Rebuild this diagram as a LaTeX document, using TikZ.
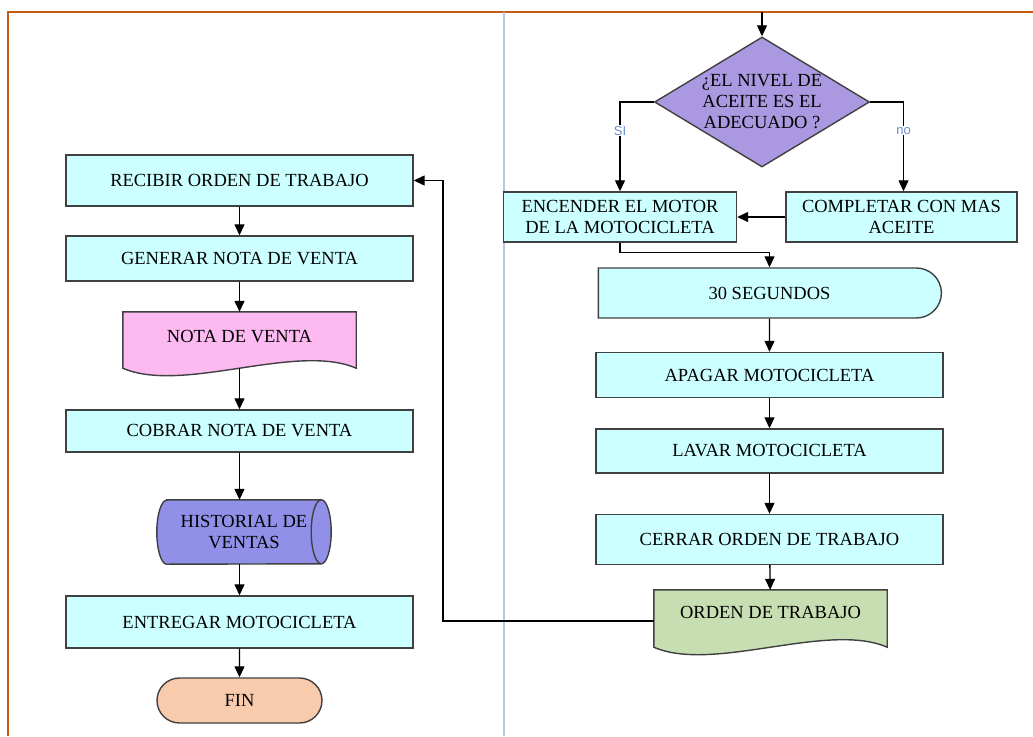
\documentclass[tikz,border=0pt]{standalone}
\usepackage{fontspec}
\setmainfont{Liberation Serif}
\setsansfont{Liberation Sans}
\usetikzlibrary{arrows.meta,shapes.geometric,shapes.misc,backgrounds}
\tikzset{>={Triangle[length=11pt,width=10pt]}}
\definecolor{celeste}{HTML}{CCFFFF}
\definecolor{rosa}{HTML}{FCBAF0}
\definecolor{lila}{HTML}{AA99E0}
\definecolor{morado}{HTML}{9090E8}
\definecolor{durazno}{HTML}{F8CBAD}
\definecolor{verdoso}{HTML}{C6DEB1}
\definecolor{naranja}{HTML}{C55A11}
\definecolor{azulito}{HTML}{B4C7E7}
\definecolor{etiqueta}{HTML}{6A8CCB}
\tikzset{
  caja/.style={draw=black!75,line width=1.4pt,fill=celeste,minimum width=347pt,inner sep=2pt,
    align=center,font=\fontsize{18.5}{21}\selectfont},
  texto/.style={align=center,inner sep=0pt,font=\fontsize{18.5}{21}\selectfont},
  borde/.style={draw=black!75,line width=1.4pt},
  flecha/.style={->,line width=1.3pt},
  rotulo/.style={fill=white,inner sep=1pt,text=etiqueta,font=\sffamily\fontsize{13}{15}\selectfont}
}
\begin{document}
\begin{tikzpicture}[x=1pt,y=-1pt]
\useasboundingbox (0,0) rectangle (1033,736);
\draw[naranja,line width=2pt] (8,736) -- (8,12) -- (1033,12);
\draw[azulito,line width=2pt] (504,12) -- (504,736);

% columna izquierda
\node[caja,minimum height=51pt] (recibir) at (239.5,180.5) {RECIBIR ORDEN DE TRABAJO};
\node[caja,minimum height=45pt] (generar) at (239.5,258.5) {GENERAR NOTA DE VENTA};
\node[texto,minimum width=233pt,minimum height=50pt] (nota) at (239.5,337) {NOTA DE VENTA};
\node[caja,minimum height=42pt] (cobrar) at (239.5,431) {COBRAR NOTA DE VENTA};
\node[texto,minimum width=174pt,minimum height=64pt] (historial) at (244,532) {HISTORIAL DE\\VENTAS};
\node[caja,minimum height=52pt] (entregar) at (239.5,622) {ENTREGAR MOTOCICLETA};
\node[rounded rectangle,borde,fill=durazno,minimum width=165pt,minimum height=45pt,
  texto] (fin) at (239.5,700.5) {FIN};

% columna derecha
\coordinate (entrada) at (762,12);
\node[diamond,borde,fill=lila,texto,aspect=1.65,minimum width=215pt,minimum height=130pt]
  (nivel) at (762,102) {¿EL NIVEL DE\\ACEITE ES EL\\ADECUADO ?};
\node[caja,minimum width=233pt,minimum height=50pt] (encender) at (620,217)
  {ENCENDER EL MOTOR\\DE LA MOTOCICLETA};
\node[caja,minimum width=231pt,minimum height=50pt] (completar) at (901.5,217)
  {COMPLETAR CON MAS\\ACEITE};
\node[caja,rounded rectangle,rounded rectangle left arc=none,minimum height=50pt]
  (segundos) at (769.5,293) {30 SEGUNDOS};
\node[caja,minimum height=45pt] (apagar) at (769.5,375) {APAGAR MOTOCICLETA};
\node[caja,minimum height=44pt] (lavar) at (769.5,451) {LAVAR MOTOCICLETA};
\node[caja,minimum height=50pt] (cerrar) at (769.5,539.5) {CERRAR ORDEN DE TRABAJO};
\node[texto,minimum width=233pt,minimum height=44pt] (orden) at (770.5,612) {ORDEN DE TRABAJO};

\begin{scope}[on background layer]
\draw[borde,fill=rosa] (nota.north west) -- (nota.north east) -- ([yshift=-6pt]nota.south east)
  .. controls ([xshift=-60pt,yshift=20pt]nota.south east) and ([xshift=60pt,yshift=-32pt]nota.south west)
  .. ([yshift=-6pt]nota.south west) -- cycle;
\draw[borde,fill=verdoso] (orden.north west) -- (orden.north east) -- ([yshift=-13pt]orden.south east)
  .. controls ([xshift=-60pt,yshift=13pt]orden.south east) and ([xshift=60pt,yshift=-39pt]orden.south west)
  .. ([yshift=-13pt]orden.south west) -- cycle;
\draw[borde,fill=morado] ([xshift=10pt]historial.north west) -- ([xshift=-10pt]historial.north east)
  arc[start angle=90,end angle=-90,x radius=10pt,y radius=32pt] -- ([xshift=10pt]historial.south west)
  arc[start angle=270,end angle=90,x radius=10pt,y radius=32pt] -- cycle;
\draw[borde] ([xshift=-10pt]historial.north east) arc[start angle=90,end angle=270,x radius=10pt,y radius=32pt];
\end{scope}

\draw[flecha] (recibir) -- (generar);
\draw[flecha] (generar) -- (nota);
\draw[flecha] ([yshift=-6pt]nota.south) -- (cobrar);
\draw[flecha] (cobrar.south) -- (cobrar.south |- historial.north);
\draw[flecha] (historial.south -| entregar.north) -- (entregar);
\draw[flecha] (entregar) -- (fin);

\draw[flecha] (entrada) -- (nivel);
\draw[flecha] (nivel.west) -| node[rotulo,pos=0.66] {SI} (encender.north);
\draw[flecha] (nivel.east) -| node[rotulo,pos=0.66] {no} ([xshift=2pt]completar.north);
\draw[flecha] (completar) -- (encender);
\draw[flecha] (encender.south) -- ++(0,10) -| (segundos.north);
\draw[flecha] (segundos) -- (apagar);
\draw[flecha] (apagar) -- (lavar);
\draw[flecha] (lavar) -- (cerrar);
\draw[flecha] (cerrar) -- (orden);
\coordinate (vuelta) at (443,621);
\draw[flecha] ([yshift=-9pt]orden.west) -- (vuelta) |- (recibir.east);
\end{tikzpicture}
\end{document}
